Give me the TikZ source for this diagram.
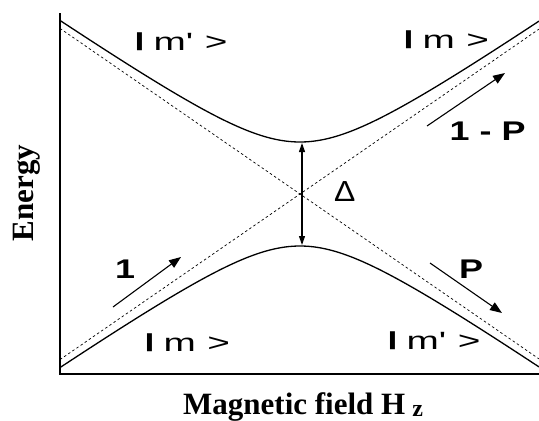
\documentclass[tikz,border=0pt]{standalone}
\usepackage{graphicx}
\usepackage{fontspec}
\setmainfont{Liberation Serif}
\newfontfamily\lblfont{Liberation Sans}
\usetikzlibrary{arrows.meta}
\newcommand\kbar{\raisebox{0.16em}{\scalebox{1}[0.76]{\bfseries |}}}
\newcommand\ket[1]{{\lblfont\fontsize{25}{25}\selectfont\scalebox{1.55}[1]{\kbar\hspace{5.5pt}m#1\hspace{7.5pt}>}}}
\newcommand\prob[1]{{\lblfont\bfseries\fontsize{27}{27}\selectfont\scalebox{1.33}[1]{#1}}}
\begin{document}
\begin{tikzpicture}[x=1pt,y=-1pt,
  axisline/.style={line width=1.6pt},
  levelcurve/.style={line width=1.3pt},
  asym/.style={line width=0.7pt, dash pattern=on 2.5pt off 2.5pt},
  flow/.style={line width=1.1pt, -{Triangle[length=12pt,width=9pt]}},
  gaparrow/.style={line width=1.1pt, {Triangle[length=9pt,width=6pt]}-{Triangle[length=9pt,width=6pt]}},
  ketlbl/.style={anchor=base west, inner sep=0pt},
  axlbl/.style={inner sep=0pt, font=\bfseries\fontsize{31}{31}\selectfont}]
\useasboundingbox (0,0) rectangle (539,421);
% axes
\coordinate (ytop) at (60,13);
\coordinate (orig) at (60,374);
\coordinate (xend) at (539,374);
\draw[axisline] (ytop) -- (orig) -- (xend);
% asymptotes
\coordinate (dTL) at (60,28.4);
\coordinate (dBR) at (539,358.9);
\coordinate (dBL) at (60,359.6);
\coordinate (dTR) at (539,29.1);
\draw[asym] (dTL) -- (dBR);
\draw[asym] (dBL) -- (dTR);
% level curves
\draw[levelcurve] plot[domain=60:539, samples=120, smooth] (\x, {194 - 10*sqrt(27.04 + (0.069*(\x-300))^2)});
\draw[levelcurve] plot[domain=60:539, samples=120, smooth] (\x, {194 + 10*sqrt(27.04 + (0.069*(\x-300))^2)});
% gap arrow
\coordinate (gtop) at (302,143);
\coordinate (gbot) at (302,245);
\draw[gaparrow] (gtop) -- (gbot);
% flow arrows
\coordinate (a1s) at (113,307); \coordinate (a1e) at (181,257);
\coordinate (a2s) at (427,126); \coordinate (a2e) at (505,73);
\coordinate (a3s) at (430,263); \coordinate (a3e) at (502,313);
\draw[flow] (a1s) -- (a1e);
\draw[flow] (a2s) -- (a2e);
\draw[flow] (a3s) -- (a3e);
% labels
\node[ketlbl] (kTL) at (134,50) {\ket{\textquotesingle}};
\node[ketlbl] (kTR) at (403,48) {\ket{}};
\node[ketlbl] (kBL) at (144,351) {\ket{}};
\node[ketlbl] (kBR) at (387,349) {\ket{\textquotesingle}};
\node[ketlbl] (p1mp) at (449.5,140) {\prob{1 - P}};
\node[ketlbl] (p1) at (115,278) {\prob{1}};
\node[ketlbl] (pP) at (459,278) {\prob{P}};
\node[ketlbl] (delta) at (334,201) {\lblfont\fontsize{29}{29}\selectfont\scalebox{1.1}[1]{Δ}};
\node[axlbl, rotate=90] (ylab) at (27,193) {Energy};
\node[axlbl, anchor=base west] (xlab) at (183,414) {Magnetic field H\hspace{7pt}\raisebox{-2pt}{\fontsize{24}{24}\selectfont z}};
\end{tikzpicture}
\end{document}
